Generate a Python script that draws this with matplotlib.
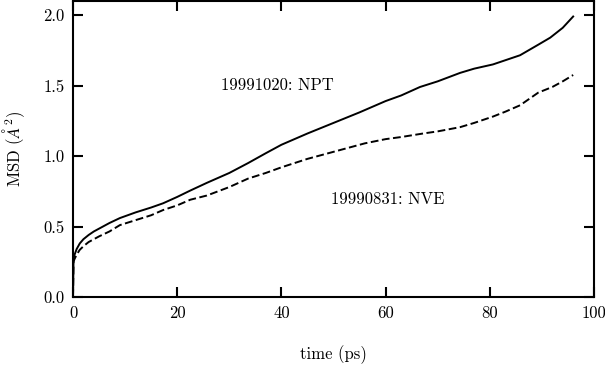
import matplotlib
matplotlib.use("Agg")
import matplotlib.pyplot as plt

t_npt = [0, 0.1, 0.3, 0.7, 1.3, 2, 3, 4, 5, 7, 9, 12, 15, 17.3, 20, 22.5, 25.7, 30, 33.6, 37, 40, 45, 50, 55, 60, 63, 66.6, 70, 74.3, 77, 80.6, 83, 85.8, 89.3, 91.6, 94, 96]
msd_npt = [0, 0.27, 0.30, 0.34, 0.38, 0.41, 0.44, 0.465, 0.485, 0.525, 0.56, 0.60, 0.635, 0.665, 0.71, 0.755, 0.81, 0.88, 0.95, 1.02, 1.08, 1.16, 1.235, 1.31, 1.39, 1.43, 1.49, 1.53, 1.59, 1.62, 1.65, 1.68, 1.715, 1.79, 1.84, 1.91, 1.99]

t_nve = [0, 0.1, 0.3, 0.7, 1.3, 2, 3, 4, 5, 7, 9, 12, 15, 17.3, 20, 22.5, 25.7, 30, 33.6, 37, 40, 45, 49, 52, 56, 60, 63, 67.2, 70, 74.3, 77, 80.6, 83, 85.8, 89.3, 92, 94, 96]
msd_nve = [0, 0.25, 0.27, 0.30, 0.335, 0.36, 0.39, 0.41, 0.43, 0.465, 0.51, 0.545, 0.58, 0.617, 0.65, 0.69, 0.72, 0.78, 0.84, 0.88, 0.92, 0.98, 1.02, 1.05, 1.09, 1.12, 1.135, 1.16, 1.175, 1.205, 1.235, 1.28, 1.315, 1.36, 1.45, 1.49, 1.53, 1.575]

xticks = [0, 20, 40, 60, 80, 100]
yticks = [0.0, 0.5, 1.0, 1.5, 2.0]

plt.rcParams['font.family'] = ['cmr10', 'DejaVu Serif']
plt.rcParams['mathtext.fontset'] = 'cm'
plt.rcParams['axes.unicode_minus'] = False
plt.rcParams['axes.formatter.use_mathtext'] = True

fig = plt.figure(figsize=(6.05, 3.65), dpi=100)
ax = fig.add_axes([73/605, 68/365, 521/605, 296/365])

ax.plot(t_npt, msd_npt, color='black', lw=1.4)
ax.plot(t_nve, msd_nve, color='black', lw=1.4, dashes=(4, 1.8))

ax.text(39.3, 1.50, '19991020: NPT', ha='center', va='center', fontsize=12)
ax.text(60.5, 0.695, '19990831: NVE', ha='center', va='center', fontsize=12)

ax.set_xlim(0, 100)
ax.set_ylim(0, 2.1)
ax.set_xticks(xticks)
ax.set_yticks(yticks)
ax.set_xticklabels([str(v) for v in xticks])
ax.set_yticklabels(['%.1f' % v for v in yticks])
ax.tick_params(direction='in', length=7, width=1.5, top=True, right=True, labelsize=12, pad=6)
for s in ax.spines.values():
    s.set_linewidth(1.5)

ax.set_xlabel('time (ps)', fontsize=12, labelpad=18)
ax.set_ylabel(r'MSD ($\mathit{\AA}^2$)', fontsize=12, labelpad=12)

fig.savefig('out.png', dpi=100)
